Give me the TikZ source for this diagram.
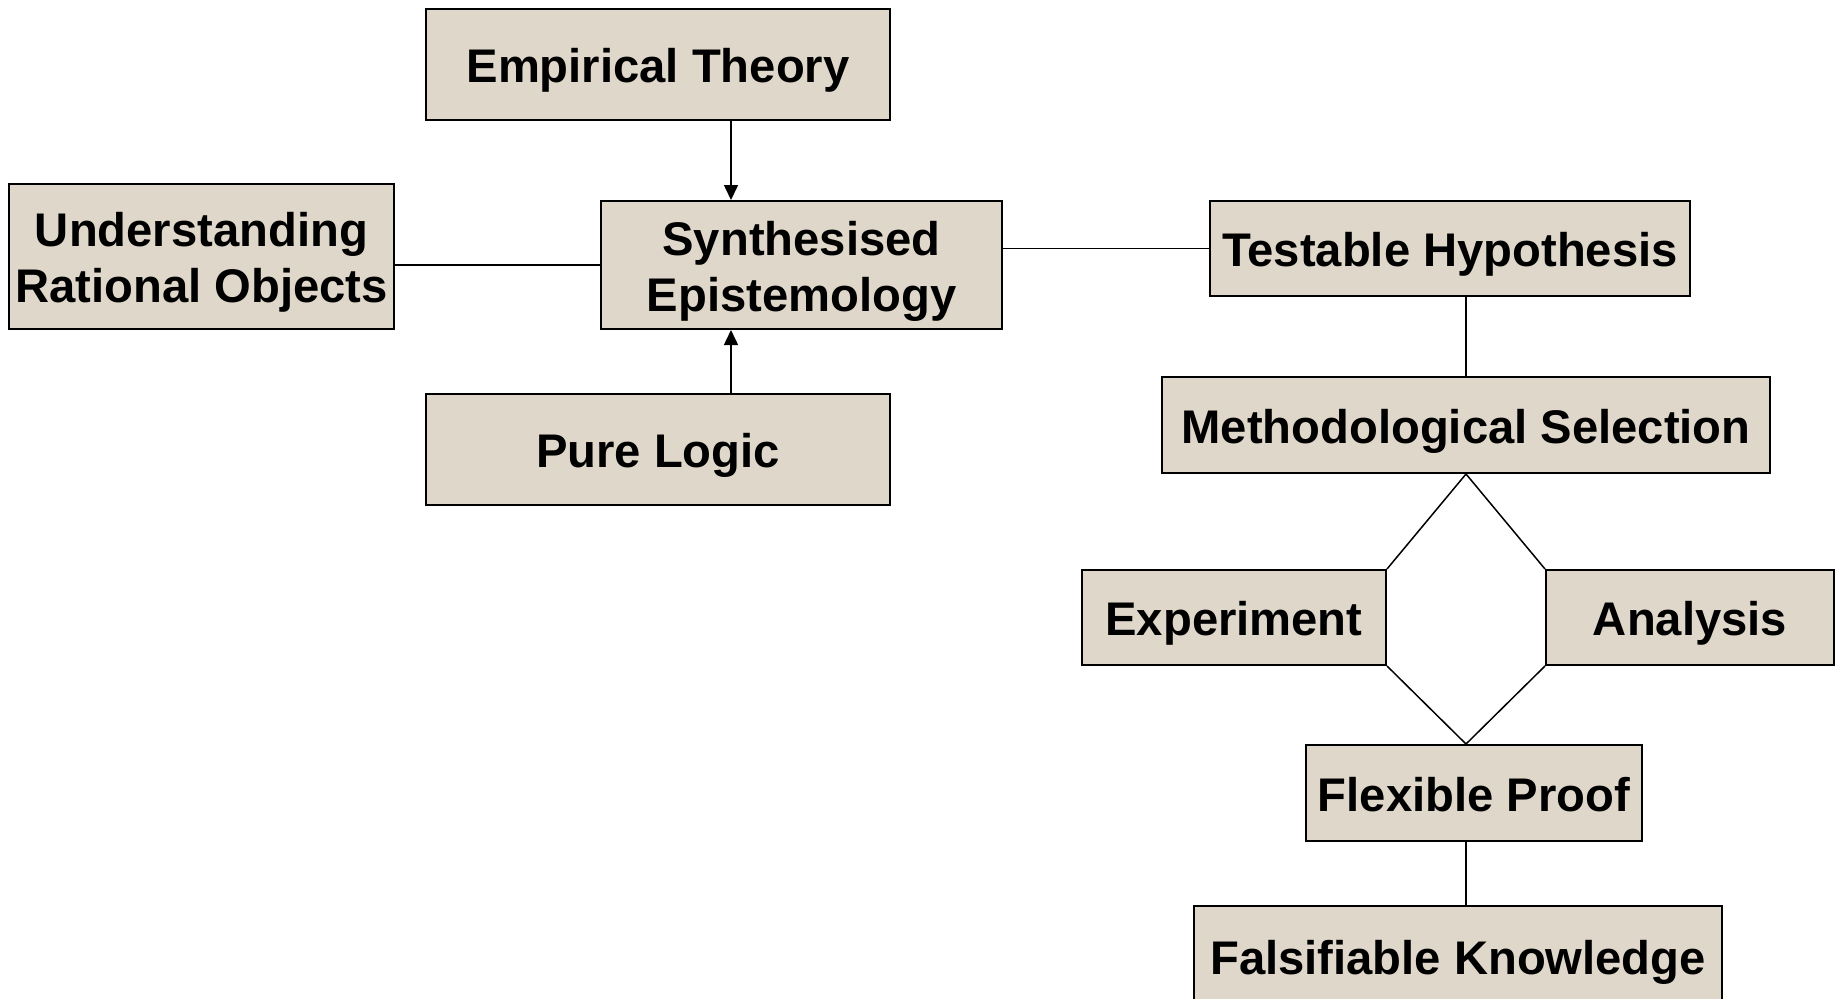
\documentclass[tikz,border=0pt]{standalone}
\usepackage{fontspec}
\setmainfont{Liberation Sans}
\usetikzlibrary{arrows.meta}
\definecolor{boxfill}{RGB}{223,215,202}
\begin{document}
\begin{tikzpicture}[x=0.5pt,y=-0.5pt,
  box/.style={draw=black, line width=1pt, fill=boxfill, inner sep=0pt, align=center,
    font=\fontsize{23.6}{28}\selectfont\bfseries, text height=23.3pt, text depth=5pt},
  twoline/.style={text height=51.3pt},
  conn/.style={draw=black, line width=0.75pt},
  arr/.style={conn, -{Triangle[length=7.5pt,width=7pt]}}]
\useasboundingbox (0,0) rectangle (1842,998);
\node[box, minimum width=232pt, minimum height=55.5pt] (ET) at (658,64.5) {Empirical Theory};
\node[box, twoline, minimum width=192.5pt, minimum height=72.5pt] (URO) at (201.5,256.5) {Understanding\\Rational Objects};
\node[box, twoline, minimum width=200.5pt, minimum height=64pt] (SE) at (801.5,265) {Synthesised\\Epistemology};
\node[box, minimum width=232pt, minimum height=55.5pt] (PL) at (658,449.5) {Pure Logic};
\node[box, minimum width=240pt, minimum height=47.5pt] (TH) at (1450,248.5) {Testable Hypothesis};
\node[box, minimum width=304pt, minimum height=48pt] (MS) at (1466,425) {Methodological Selection};
\node[box, minimum width=152pt, minimum height=47.5pt] (EX) at (1234,617.5) {Experiment};
\node[box, minimum width=144pt, minimum height=47.5pt] (AN) at (1690,617.5) {Analysis};
\node[box, minimum width=168pt, minimum height=48pt] (FP) at (1474,793) {Flexible Proof};
\node[box, minimum width=264pt, minimum height=50pt] (FK) at (1458,956) {Falsifiable Knowledge};
\coordinate (ax) at (731,0);
\coordinate (mx) at (1466,0);
\draw[arr] (ET.south -| ax) -- (SE.north -| ax);
\draw[arr] (PL.north -| ax) -- (SE.south -| ax);
\draw[conn] (URO.east |- SE.west) -- (SE.west);
\draw[conn] (SE.east |- TH.west) -- (TH.west);
\draw[conn] (TH.south -| mx) -- (MS.north);
\draw[conn] (EX.north east) -- (MS.south) -- (AN.north west);
\draw[conn] (EX.south east) -- (FP.north -| mx) -- (AN.south west);
\draw[conn] (FP.south -| mx) -- (FK.north -| mx);
\end{tikzpicture}
\end{document}
